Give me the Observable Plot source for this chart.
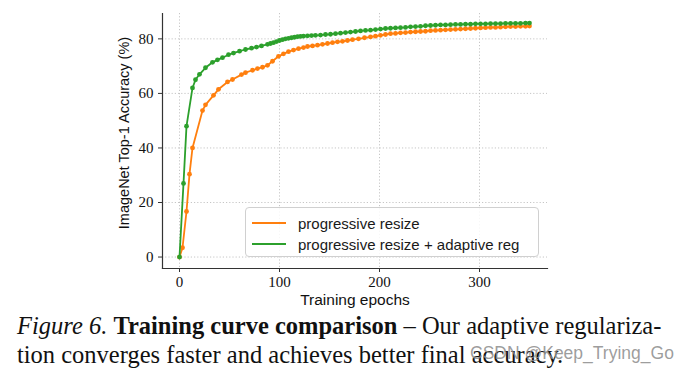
<!DOCTYPE html>
<html>
<head>
<meta charset="utf-8">
<script src="https://cdn.jsdelivr.net/npm/d3@7"></script>
<script src="https://cdn.jsdelivr.net/npm/@observablehq/plot@0.6"></script>
<style>
  html, body { margin: 0; padding: 0; background: #fff; }
  #wrap { position: relative; width: 692px; height: 374px; overflow: hidden; }
  #legend { position: absolute; left: 245px; top: 207px; width: 294px; height: 50px;
    border: 1px solid #d0d0d0; border-radius: 4px; background: rgba(255,255,255,0.85);
    font-family: "Liberation Sans", Arial, sans-serif; font-size: 15px; color: #1a1a1a; box-sizing: border-box; }
  .item { position: absolute; left: 0; height: 20px; display: flex; align-items: center; }
  .swatch { width: 34px; height: 0; border-top: 2px solid; margin-left: 6px; margin-right: 12px; }
  #caption { position: absolute; left: 17px; top: 311px; font-family: "Liberation Serif", "Times New Roman", serif;
    font-size: 24.5px; line-height: 29px; color: #111; white-space: nowrap; }
  #wm { position: absolute; left: 470px; top: 343px; font-family: "Liberation Sans", Arial, sans-serif;
    font-size: 17.5px; color: rgba(140,140,140,0.85); white-space: nowrap; }
</style>
</head>
<body>
<div id="wrap"></div>
<script>
const seriesNames = ["progressive resize", "progressive resize + adaptive reg"];
const seriesColors = ["#ff7f0e", "#2ca02c"];

const epochsOrange = [0,3,7,10,13,23,26,34,39,48,53,62,66,73,78,83,88,93,99,104,109,114,119,124,128,133,138,143,148,153,158,163,168,173,179,185,191,196,201,206,211,216,221,226,231,236,241,246,251,256,261,266,271,276,281,286,291,296,301,306,311,316,321,326,331,336,341,346,350];
const accOrange = [0,3.4,16.7,30.4,40,53.7,55.8,59.3,61.5,64.2,65.1,66.9,67.6,68.5,69.1,69.6,70.3,71.8,73.6,74.5,75.3,75.9,76.4,76.8,77.2,77.4,77.7,78,78.3,78.6,78.9,79.1,79.4,79.7,80,80.4,80.7,81,81.3,81.6,81.9,82,82.2,82.3,82.5,82.6,82.7,82.8,83,83.1,83.2,83.3,83.4,83.5,83.6,83.7,83.8,83.9,84,84.1,84.2,84.2,84.3,84.4,84.5,84.5,84.6,84.6,84.7];

const epochsGreen = [0,4,7,13,16,20,26,33,38,43,49,54,60,66,72,77,82,88,91,94,97,100,103,106,109,112,115,118,121,124,128,132,136,141,146,151,156,161,166,171,176,181,186,191,196,201,206,211,216,221,226,231,236,241,246,251,256,261,266,271,276,281,286,291,296,301,306,311,316,321,326,331,336,341,346,350];
const accGreen = [0,27,48,62,65,67,69.4,71.4,72.3,73.1,74.2,74.8,75.5,76.1,76.6,77,77.4,78,78.3,78.6,79,79.4,79.7,80,80.2,80.4,80.6,80.8,80.9,81,81.1,81.2,81.3,81.4,81.6,81.7,81.9,82.1,82.3,82.5,82.7,82.9,83.1,83.2,83.4,83.6,83.8,83.9,84,84.1,84.2,84.4,84.5,84.6,84.8,84.9,85,85.1,85.1,85.2,85.3,85.3,85.4,85.4,85.5,85.5,85.5,85.6,85.6,85.6,85.7,85.7,85.7,85.7,85.8,85.8];

const xTicks = [0, 100, 200, 300];
const yTicks = [0, 20, 40, 60, 80];
const xLabel = "Training epochs";
const yLabel = "ImageNet Top-1 Accuracy (%)";

const orange = epochsOrange.map((e, i) => ({epoch: e, acc: accOrange[i]}));
const green = epochsGreen.map((e, i) => ({epoch: e, acc: accGreen[i]}));

const serif = "'Liberation Serif', 'Times New Roman', serif";
const sans = "'Liberation Sans', Arial, sans-serif";

const chart = Plot.plot({
  width: 692,
  height: 312,
  marginLeft: 162,
  marginRight: 145,
  marginTop: 13,
  marginBottom: 44,
  style: {background: "transparent", overflow: "visible"},
  x: {domain: [-17, 368]},
  y: {domain: [-4.2, 89.3]},
  marks: [
    Plot.gridX(xTicks, {stroke: "#b8b8b8", strokeOpacity: 1, strokeWidth: 0.8, strokeDasharray: "1.2,2"}),
    Plot.gridY(yTicks, {stroke: "#b8b8b8", strokeOpacity: 1, strokeWidth: 0.8, strokeDasharray: "1.2,2"}),
    Plot.axisX(xTicks, {label: null, tickSize: 4, tickPadding: 4, fontSize: 15, fontFamily: serif, fill: "#111", stroke: "#333"}),
    Plot.axisY(yTicks, {label: null, tickSize: 4, tickPadding: 5, fontSize: 15, fontFamily: serif, fill: "#111", stroke: "#333"}),
    Plot.frame({anchor: "left", stroke: "#333", strokeWidth: 1.2}),
    Plot.frame({anchor: "bottom", stroke: "#333", strokeWidth: 1.2}),
    Plot.line(orange, {x: "epoch", y: "acc", stroke: seriesColors[0], strokeWidth: 1.8}),
    Plot.dot(orange, {x: "epoch", y: "acc", fill: seriesColors[0], r: 2.4, stroke: "none"}),
    Plot.line(green, {x: "epoch", y: "acc", stroke: seriesColors[1], strokeWidth: 1.8}),
    Plot.dot(green, {x: "epoch", y: "acc", fill: seriesColors[1], r: 2.4, stroke: "none"}),
    Plot.text([yLabel], {frameAnchor: "left", textAnchor: "middle", lineAnchor: "middle", rotate: -90, dx: -38, dy: -8, fontSize: 14.5, fontFamily: sans, fill: "#111"}),
    Plot.text([xLabel], {frameAnchor: "bottom", textAnchor: "middle", lineAnchor: "middle", dy: 32, fontSize: 15.5, fontFamily: sans, fill: "#111"})
  ]
});

const wrap = document.getElementById("wrap");
wrap.appendChild(chart);

const legend = document.createElement("div");
legend.id = "legend";
seriesNames.forEach((name, i) => {
  const item = document.createElement("div");
  item.className = "item";
  item.style.top = (5 + i * 21) + "px";
  const sw = document.createElement("span");
  sw.className = "swatch";
  sw.style.borderTopColor = seriesColors[i];
  const t = document.createElement("span");
  t.textContent = name;
  item.appendChild(sw);
  item.appendChild(t);
  legend.appendChild(item);
});
wrap.appendChild(legend);

const cap = document.createElement("div");
cap.id = "caption";
cap.innerHTML = "<i>Figure 6.</i> <b>Training curve comparison</b> – Our adaptive regulariza-<br>tion converges faster and achieves better final accuracy.";
wrap.appendChild(cap);

const wm = document.createElement("div");
wm.id = "wm";
wm.textContent = "CSDN @Keep_Trying_Go";
wrap.appendChild(wm);
</script>
</body>
</html>
